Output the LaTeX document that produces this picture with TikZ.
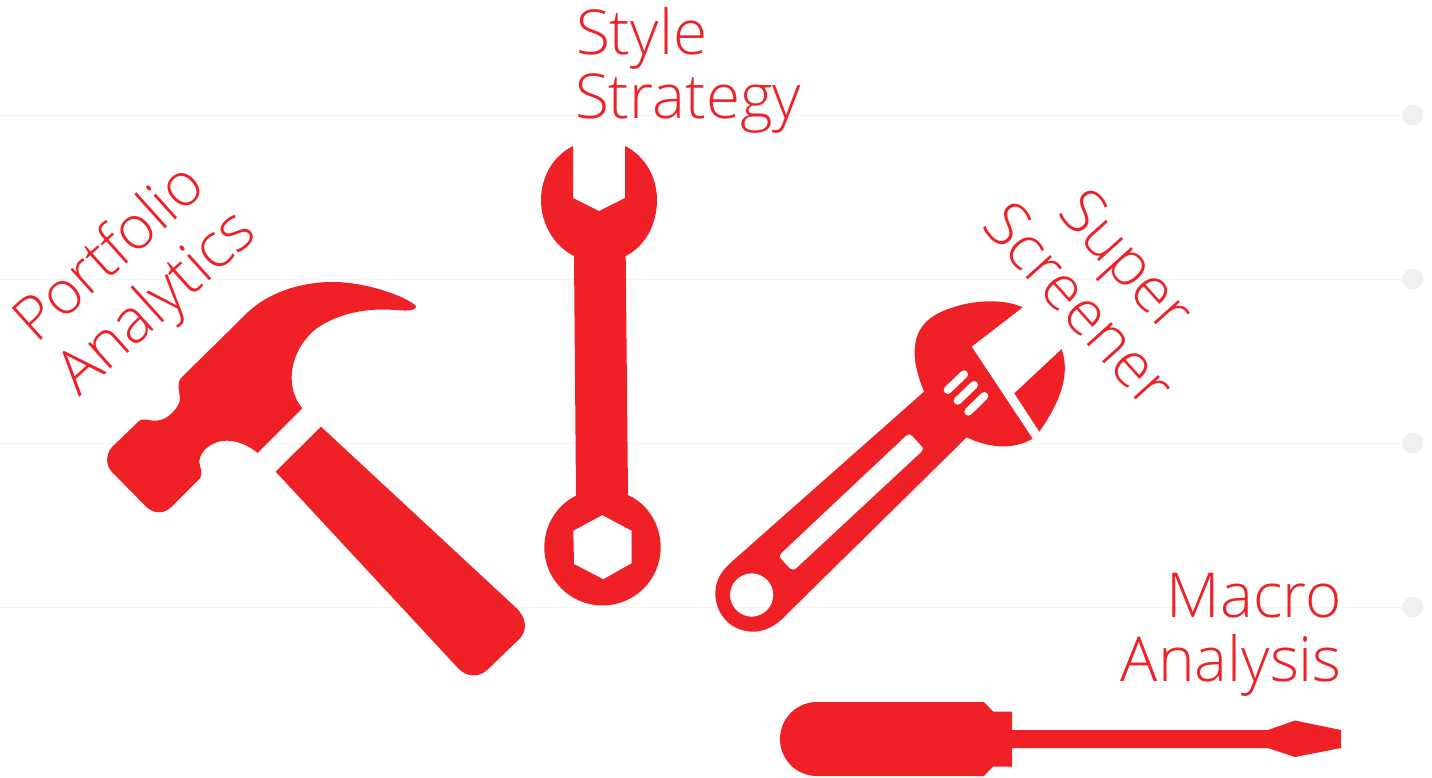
\documentclass[tikz,border=0pt]{standalone}
\usepackage{fontspec}
\setmainfont{Open Sans Light}
\definecolor{toolred}{HTML}{EF2026}
\definecolor{gridline}{HTML}{F5F5F5}
\definecolor{griddot}{HTML}{F0F0F0}
\tikzset{
  toolfill/.style={fill=toolred,draw=none},
  gridrule/.style={draw=gridline,line width=1pt},
  griddisc/.style={circle,fill=griddot,draw=none,minimum size=21pt,inner sep=0pt},
  toollabel/.style={text=toolred,font=\fontsize{62}{64}\selectfont,inner sep=0pt,align=left},
  zoomA/.style={shift={(90pt,-270pt)},x=0.33333pt,y=-0.33333pt},
  zoomB/.style={shift={(700pt,-290pt)},x=0.33333pt,y=-0.33333pt}
}
\begin{document}
\begin{tikzpicture}[x=1pt,y=-1pt]
\useasboundingbox (0,0) rectangle (1432,777);
\foreach \yy/\nm in {115/a,279/b,443/c,607/d}{
  \node[griddisc] (dot\nm) at (1413,\yy) {};
  \coordinate (start\nm) at (0,\yy);
  \draw[gridrule] (start\nm) -- (dot\nm);
}
% hammer
\begin{scope}[zoomA]
\fill[toolfill] (637,415) -- (503,549) .. controls (475,525) and (440,512) .. (410,512)
 .. controls (365,512) and (328,545) .. (328,575) .. controls (328,590) and (340,605) .. (330,625)
 -- (250,705) .. controls (225,733) and (195,733) .. (170,712)
 -- (65,605) .. controls (47,585) and (47,555) .. (65,532)
 -- (145,455) .. controls (160,440) and (180,455) .. (200,452)
 .. controls (235,450) and (270,410) .. (270,385) .. controls (270,370) and (258,345) .. (272,325)
 -- (460,140) .. controls (530,65) and (640,35) .. (730,36)
 .. controls (830,36) and (950,80) .. (978,108) .. controls (980,125) and (940,122) .. (915,120)
 .. controls (830,113) and (745,130) .. (680,175) .. controls (630,215) and (605,270) .. (605,325)
 .. controls (605,360) and (618,392) .. (637,415) -- cycle;
\fill[toolfill] (693,470) -- (1280,1015) .. controls (1310,1045) and (1312,1080) .. (1290,1105)
 -- (1200,1192) .. controls (1170,1225) and (1130,1225) .. (1100,1190) -- (557,605) -- cycle;
\end{scope}
% open-ended spanner
\fill[toolfill,even odd rule] (625,146) .. controls (645,156) and (657,177) .. (657,200)
 .. controls (657,224) and (645.5,246) .. (625.7,256) -- (628,495)
 .. controls (648,504) and (660.7,525) .. (660.7,547.5)
 .. controls (660.7,579.5) and (634.5,605.5) .. (602.5,605.5)
 .. controls (570.5,605.5) and (544.3,579.5) .. (544.3,547.5)
 .. controls (544.3,525) and (557,505) .. (576,495.7) -- (574,256)
 .. controls (554,246) and (541,224) .. (541,200)
 .. controls (541,177) and (553,156) .. (573,146) -- (573,198) -- (599,211) -- (625,198) -- cycle
 (602.3,515) -- (631.7,530.7) -- (631.7,563.3) -- (603.3,579.3) -- (574,564) -- (573.3,530.7) -- cycle;
% adjustable wrench
\begin{scope}[zoomB]
\fill[toolfill,even odd rule] (968,52) -- (815,170) -- (998,446)
 .. controls (940,480) and (870,475) .. (800,442) -- (243,990)
 .. controls (215,1015) and (185,1025) .. (160,1025)
 .. controls (95,1025) and (46,975) .. (46,910)
 .. controls (46,875) and (62,845) .. (90,820) -- (672,305)
 .. controls (650,250) and (640,205) .. (645,170)
 .. controls (650,110) and (690,75) .. (750,55) .. controls (820,30) and (910,25) .. (968,52) -- cycle
 (155,850) .. controls (191,850) and (220,879) .. (220,915) .. controls (220,951) and (191,980) .. (155,980)
 .. controls (119,980) and (90,951) .. (90,915) .. controls (90,879) and (119,850) .. (155,850) -- cycle
 (618,437) .. controls (625,431) and (632,431) .. (637,438) -- (663,466)
 .. controls (670,473) and (670,480) .. (663,487) -- (291,833)
 .. controls (284,840) and (275,842) .. (269,835) -- (244,808)
 .. controls (237,801) and (238,794) .. (245,788) -- cycle;
\fill[toolfill] (1085,177) -- (943,310) -- (1018,425)
 .. controls (1085,330) and (1110,250) .. (1085,177) -- cycle;
\draw[white,line width=8pt,line cap=round] (743,300) -- (792,253) (773,332) -- (822,285) (805,365) -- (853,318);
\end{scope}
% screwdriver
\fill[toolfill] (817,702) -- (984,702) -- (993,711.5) -- (1012,711.5) -- (1012,730) -- (1268,730)
 -- (1295,720.5) -- (1341,730) -- (1341,748) -- (1295,757) -- (1268,748) -- (1012,748)
 -- (1012,766.5) -- (993,766.5) -- (984,776) -- (817,776)
 .. controls (796,776) and (780,759) .. (780,739) .. controls (780,719) and (796,702) .. (817,702) -- cycle;
% labels
\node[toollabel,anchor=base west] (style) at (576,54) {Style};
\node[toollabel,anchor=base west] (strategy) at (575,118) {Strategy};
\node[toollabel,anchor=base east] (macro) at (1342,617) {Macro};
\node[toollabel,anchor=base east] (analysis) at (1342,681) {Analysis};
\node[toollabel,font=\fontsize{60.5}{64}\selectfont,anchor=base west,rotate=42] (portfolio) at (36,345) {Portfolio};
\node[toollabel,anchor=base west,rotate=42] (analytics) at (79,398) {Analytics};
\node[toollabel,anchor=base west,rotate=-48] (super) at (1056,213) {Super};
\node[toollabel,anchor=base west,rotate=-48] (screener) at (980,226) {Screener};
\end{tikzpicture}
\end{document}
